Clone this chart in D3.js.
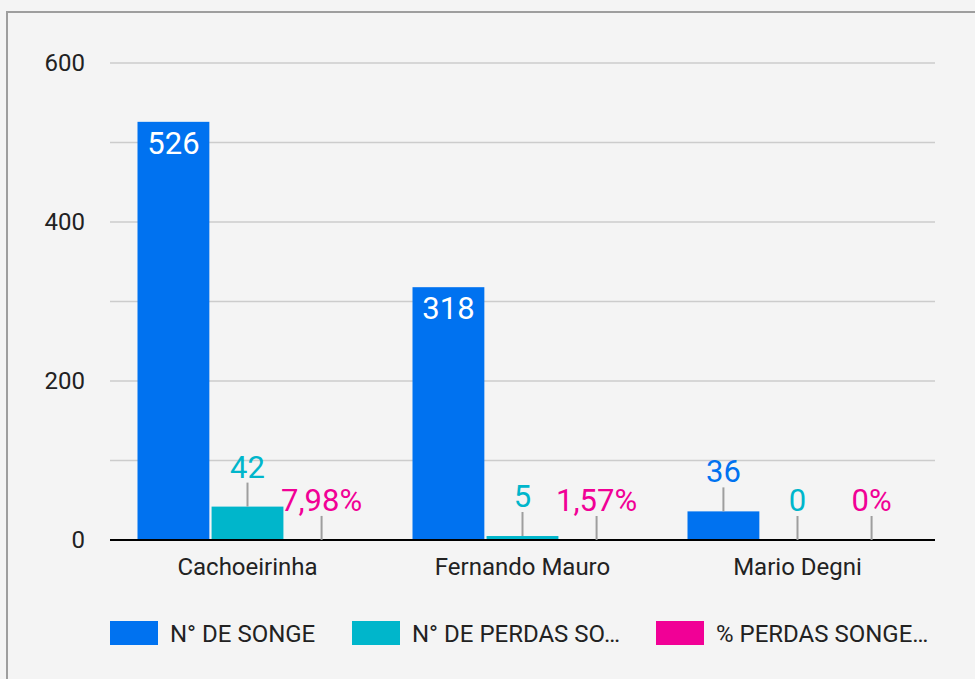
<!DOCTYPE html>
<html lang="pt">
<head>
<meta charset="utf-8">
<title>Songe</title>
<style>
  body { margin: 0; background: #f4f4f4; }
  svg { display: block; font-family: Roboto, sans-serif; }
  .grid line { stroke: #cccccc; stroke-width: 1.5; }
  .leader { stroke: #9e9e9e; stroke-width: 2; }
</style>
</head>
<body>
<div id="chart"></div>
<script src="https://d3js.org/d3.v7.min.js"></script>
<script>
// data
var categories = ["Cachoeirinha", "Fernando Mauro", "Mario Degni"];
var seriesNames = ["N° DE SONGE", "N° DE PERDAS SO…", "% PERDAS SONGE…"];
var numSonge = [526, 318, 36];
var numPerdas = [42, 5, 0];
var pctPerdas = [7.98, 1.57, 0];   // percent, plotted as fraction
var yTicks = [0, 200, 400, 600];
var yGrid = [100, 300, 500];
var colors = ["#0072f0", "#00b6cb", "#f10096"];

var W = 975, H = 679;
var m = { left: 110, right: 40, top: 63, bottom: 139 };

var svg = d3.select("#chart").append("svg")
    .attr("width", W).attr("height", H);

// frame
svg.append("rect")
    .attr("x", 7).attr("y", 12)
    .attr("width", W + 20).attr("height", H + 20)
    .attr("fill", "#f4f4f4")
    .attr("stroke", "#9e9e9e").attr("stroke-width", 2);

var ptBR = d3.formatLocale({ decimal: ",", thousands: ".", grouping: [3], currency: ["R$", ""] });
var fmtPct = function(v) { return ptBR.format(".2~f")(v) + "%"; };

var x0 = d3.scaleBand().domain(categories)
    .range([m.left, W - m.right])
    .paddingInner(0.2).paddingOuter(0.1);
var x1 = d3.scaleBand().domain([0, 1, 2])
    .range([0, x0.bandwidth()])
    .paddingInner(0.03);
var y = d3.scaleLinear().domain([0, 600]).range([H - m.bottom, m.top]);

// gridlines
var g = svg.append("g").attr("class", "grid");
g.selectAll("line")
  .data(yTicks.filter(function(d) { return d > 0; }).concat(yGrid))
  .enter().append("line")
    .attr("x1", m.left).attr("x2", W - m.right)
    .attr("y1", function(d) { return y(d); })
    .attr("y2", function(d) { return y(d); });

// y axis labels
var yAxis = svg.append("g")
    .attr("transform", "translate(" + m.left + ",0)")
    .call(d3.axisLeft(y).tickValues(yTicks).tickSize(0).tickPadding(25));
yAxis.select(".domain").remove();
yAxis.selectAll("text")
    .attr("fill", "#222").style("font-size", "24px").style("font-family", "Roboto");

var rows = [];
categories.forEach(function(c, i) {
  rows.push({ cat: c, s: 0, v: numSonge[i], plot: numSonge[i], label: String(numSonge[i]) });
  rows.push({ cat: c, s: 1, v: numPerdas[i], plot: numPerdas[i], label: String(numPerdas[i]) });
  rows.push({ cat: c, s: 2, v: pctPerdas[i], plot: pctPerdas[i] / 100, label: fmtPct(pctPerdas[i]) });
});

// bars
svg.append("g").selectAll("rect")
  .data(rows).enter().append("rect")
    .attr("x", function(d) { return x0(d.cat) + x1(d.s); })
    .attr("width", x1.bandwidth())
    .attr("y", function(d) { return y(d.plot); })
    .attr("height", function(d) { return y(0) - y(d.plot); })
    .attr("fill", function(d) { return colors[d.s]; });

// x axis line
svg.append("line")
    .attr("x1", m.left).attr("x2", W - m.right)
    .attr("y1", y(0)).attr("y2", y(0))
    .attr("stroke", "#000").attr("stroke-width", 2);

// data labels
var lbl = svg.append("g");
rows.forEach(function(d) {
  var cx = x0(d.cat) + x1(d.s) + x1.bandwidth() / 2;
  var top = y(d.plot);
  var inside = (y(0) - top) > 60;
  if (inside) {
    lbl.append("text")
      .attr("x", cx).attr("y", top + 32)
      .attr("text-anchor", "middle")
      .attr("fill", "#fff").style("font-size", "31px")
      .text(d.label);
  } else {
    lbl.append("line").attr("class", "leader")
      .attr("x1", cx).attr("x2", cx)
      .attr("y1", top).attr("y2", top - 24);
    lbl.append("text")
      .attr("x", cx).attr("y", top - 29)
      .attr("text-anchor", "middle")
      .attr("fill", colors[d.s]).style("font-size", "31px")
      .text(d.label);
  }
});

// category labels
svg.append("g").selectAll("text")
  .data(categories).enter().append("text")
    .attr("x", function(d) { return x0(d) + x0.bandwidth() / 2; })
    .attr("y", y(0) + 35)
    .attr("text-anchor", "middle")
    .attr("fill", "#222").style("font-size", "24px")
    .text(function(d) { return d; });

// legend
var legX = [110, 352, 656];
var leg = svg.append("g").selectAll("g")
  .data(seriesNames).enter().append("g")
    .attr("transform", function(d, i) { return "translate(" + legX[i] + ",621)"; });
leg.append("rect")
    .attr("width", 48).attr("height", 24)
    .attr("fill", function(d, i) { return colors[i]; });
leg.append("text")
    .attr("x", 60).attr("y", 21)
    .attr("fill", "#222").style("font-size", "24px")
    .text(function(d) { return d; });
</script>
</body>
</html>
